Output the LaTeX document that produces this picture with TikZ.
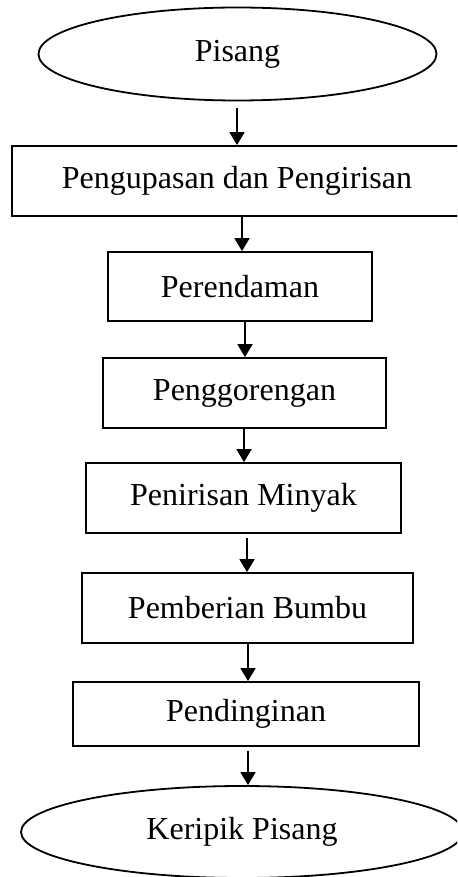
\documentclass[tikz,border=0pt]{standalone}
\usepackage{fontspec}
\setmainfont{Liberation Serif}
\usetikzlibrary{shapes.geometric,arrows.meta}
\begin{document}
\begin{tikzpicture}[x=0.5pt,y=-0.5pt,
  every node/.style={font=\fontsize{16}{19}\selectfont, inner sep=0pt, line width=0.9pt, draw=black},
  stepbox/.style={rectangle},
  endpoint/.style={ellipse},
  arr/.style={-{Triangle[width=7.5pt,length=6.5pt]}, line width=0.9pt}]
\useasboundingbox (0,0) rectangle (457,877);
\clip (0,0) rectangle (457,877);
\node[endpoint, minimum width=199pt, minimum height=46.5pt] (e1) at (237.5,54) {Pisang};
\node[stepbox, minimum width=225pt, minimum height=35pt] (b1) at (237,181) {Pengupasan dan Pengirisan};
\node[stepbox, minimum width=132pt, minimum height=34.5pt] (b2) at (240,286.5) {Perendaman};
\node[stepbox, minimum width=141.5pt, minimum height=35pt] (b3) at (244.5,393) {Penggorengan};
\node[stepbox, minimum width=157.5pt, minimum height=35pt] (b4) at (243.5,498) {Penirisan Minyak};
\node[stepbox, minimum width=165.5pt, minimum height=35pt] (b5) at (247.5,608) {Pemberian Bumbu};
\node[stepbox, minimum width=173pt, minimum height=32pt] (b6) at (246,714) {Pendinginan};
\node[endpoint, minimum width=221pt, minimum height=46pt] (e2) at (242,832) {Keripik Pisang};
\coordinate (x1) at (237,0);
\coordinate (x2) at (242,0);
\coordinate (x3) at (245,0);
\coordinate (x4) at (244,0);
\coordinate (x5) at (247,0);
\coordinate (x6) at (248,0);
\draw[arr, shorten <=3.5pt] (x1 |- e1.south) -- (x1 |- b1.north);
\draw[arr] (x2 |- b1.south) -- (x2 |- b2.north);
\draw[arr] (x3 |- b2.south) -- (x3 |- b3.north);
\draw[arr] (x4 |- b3.south) -- (x4 |- b4.north);
\draw[arr, shorten <=2pt] (x5 |- b4.south) -- (x5 |- b5.north);
\draw[arr] (x6 |- b5.south) -- (x6 |- b6.north);
\draw[arr, shorten <=2pt] (x6 |- b6.south) -- (x6 |- e2.north);
\end{tikzpicture}
\end{document}
